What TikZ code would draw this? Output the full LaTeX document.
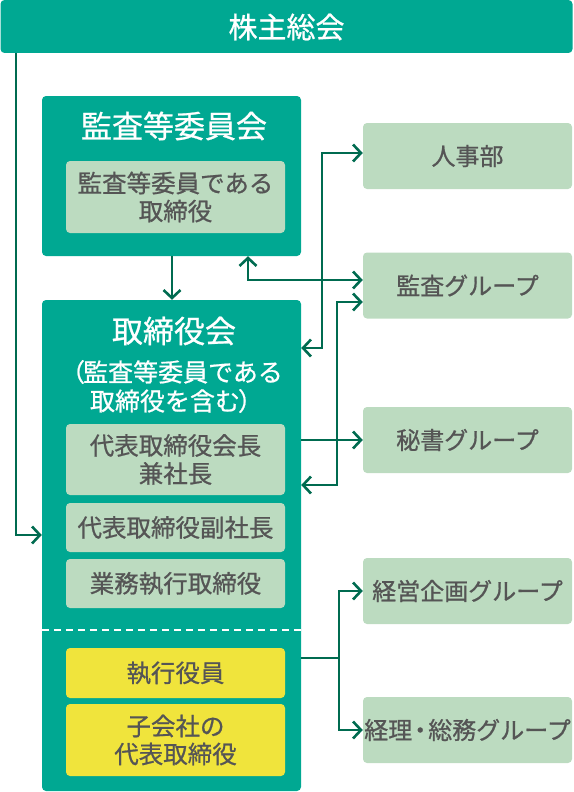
\documentclass[tikz,border=0pt]{standalone}
\usepackage{fontspec}
\setmainfont{Noto Sans CJK JP}[FakeBold=0.8]
\usetikzlibrary{arrows.meta}
\definecolor{teal1}{RGB}{0,168,146}
\definecolor{lightg}{RGB}{188,219,192}
\definecolor{yel}{RGB}{240,228,60}
\definecolor{textg}{RGB}{85,85,85}
\definecolor{lineg}{RGB}{0,107,80}
\tikzset{
  box/.style={rectangle, rounded corners=4pt, inner sep=0pt, align=center},
  bigbox/.style={box, fill=teal1},
  inbox/.style={box, fill=lightg, text=textg, minimum width=219pt, font=\fontsize{24.5}{28}\selectfont},
  yelbox/.style={inbox, fill=yel},
  rbox/.style={box, fill=lightg, text=textg, minimum width=209pt, minimum height=66pt, font=\fontsize{24}{28}\selectfont},
  wtitle/.style={inner sep=0pt, text=white, align=center, font=\fontsize{31}{34}\selectfont},
  wsub/.style={inner sep=0pt, text=white, align=center, font=\fontsize{25}{29}\selectfont},
  conn/.style={draw=lineg, line width=2.6pt},
  tip/.tip={Straight Barb[length=8pt, width=17pt, line width=2.6pt]}
}
\begin{document}
\begin{tikzpicture}[x=1pt, y=-1pt]
\useasboundingbox (0,0) rectangle (573,792);
% top bar
\node[bigbox, minimum width=572pt, minimum height=53pt] (top) at (286.5,26.5) {};
\node[wtitle, font=\fontsize{29}{32}\selectfont] (toptxt) at (286.5,27) {株主総会};
% audit committee
\node[bigbox, minimum width=259pt, minimum height=160pt] (audit) at (171.5,176) {};
\node[wtitle] (audittitle) at (174,126) {監査等委員会};
\node[inbox, minimum height=72pt] (auditin) at (175.5,197) {監査等委員である\\取締役};
% board
\node[bigbox, minimum width=259pt, minimum height=491pt] (board) at (171.5,545.5) {};
\node[wtitle] (boardtitle) at (174,331) {取締役会};
\node[wsub] (boardsub) at (174,386.5) {\kern-5pt（\kern-2pt監査等委員である\\取締役を含む\kern-2pt）\kern-5pt};
\node[inbox, minimum height=71pt] (kaicho) at (175.5,459.5) {代表取締役会長\\兼社長};
\node[inbox, minimum height=49pt] (fuku) at (175.5,527.5) {代表取締役副社長};
\node[inbox, minimum height=49pt] (gyomu) at (175.5,583.5) {業務執行取締役};
\node[yelbox, minimum height=50pt] (shikko) at (175.5,673) {執行役員};
\node[yelbox, minimum height=72pt] (kogaisha) at (175.5,740) {子会社の\\代表取締役};
\draw[white, line width=2pt, dash pattern=on 7pt off 5pt] (board.west |- 0,630) -- (board.east |- 0,630);
% right boxes
\node[rbox] (jinji) at (467.5,156) {人事部};
\node[rbox] (kansag) at (467.5,285.5) {監査グループ};
\node[rbox] (hisho) at (467.5,440) {秘書グループ};
\node[rbox] (keiei) at (467.5,591) {経営企画グループ};
\node[rbox] (keiri) at (467.5,730) {経理\kern-4pt・\kern-4pt総務グループ};
% connectors
\coordinate (L) at (16,535);
\draw[conn, -{tip}] (top.south -| L) -- (L) -- (board.west |- L);
\coordinate (F) at (172,0);
\draw[conn, -{tip}] (audit.south -| F) -- (board.north -| F);
\coordinate (a1) at (322,348);
\coordinate (a2) at (322,153);
\draw[conn, {tip}-{tip}] (board.east |- a1) -- (a1) -- (a2) -- (jinji.west |- a2);
\coordinate (b1) at (248,280);
\draw[conn, {tip}-{tip}] (audit.south -| b1) -- (b1) -- (kansag.west |- b1);
\coordinate (c1) at (337,302);
\coordinate (c2) at (337,485);
\draw[conn, {tip}-{tip}] (kansag.west |- c1) -- (c1) -- (c2) -- (board.east |- c2);
\draw[conn, -{tip}] (board.east |- hisho.west) -- (hisho.west);
\coordinate (e1) at (339,658);
\draw[conn] (board.east |- e1) -- (e1);
\draw[conn, -{tip}] (e1) |- (keiei.west);
\draw[conn, -{tip}] (e1) |- (keiri.west);
\end{tikzpicture}
\end{document}
